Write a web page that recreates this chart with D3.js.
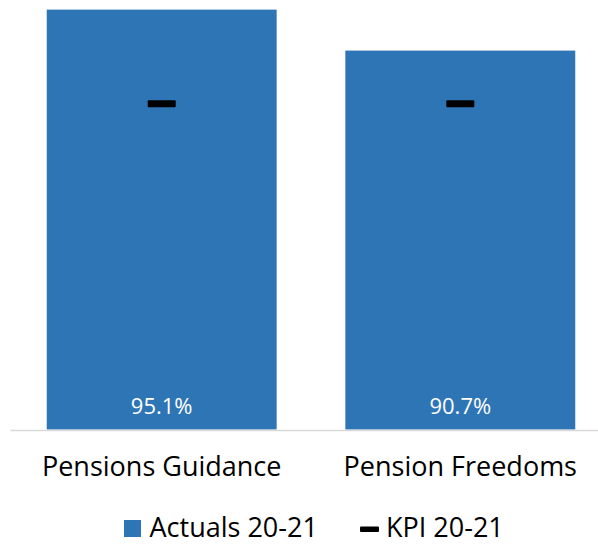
<!DOCTYPE html>
<html>
<head>
<meta charset="utf-8">
<script src="https://cdn.jsdelivr.net/npm/d3@7"></script>
<style>
  body { margin: 0; background: #fff; }
  text { font-family: "Open Sans", sans-serif; }
</style>
</head>
<body>
<div id="chart"></div>
<script>
// data
const categories = ["Pensions Guidance", "Pension Freedoms"];
const actuals = [95.1, 90.7];
const kpi = [85, 85];
const seriesNames = ["Actuals 20-21", "KPI 20-21"];

const width = 598, height = 544;
const barColor = "#2E75B6";

const svg = d3.select("#chart").append("svg")
  .attr("width", width)
  .attr("height", height);

// plot area runs a little past the right edge, like the original
const x = d3.scaleBand()
  .domain(categories)
  .range([12.4, 609.6])
  .paddingInner(0.23)
  .paddingOuter(0.115);

const y = d3.scaleLinear()
  .domain([50, 100])
  .range([429.5, -36]);

// bars
svg.append("g").selectAll("rect")
  .data(actuals)
  .join("rect")
  .attr("x", (d, i) => x(categories[i]))
  .attr("y", d => y(d))
  .attr("width", x.bandwidth())
  .attr("height", d => y(50) - y(d))
  .attr("fill", barColor);

// value labels inside bars
svg.append("g").selectAll("text")
  .data(actuals)
  .join("text")
  .attr("x", (d, i) => x(categories[i]) + x.bandwidth() / 2)
  .attr("y", 413.5)
  .attr("text-anchor", "middle")
  .attr("fill", "#fff")
  .style("font-size", "22px")
  .text(d => d.toFixed(1) + "%");

// kpi markers
svg.append("g").selectAll("rect")
  .data(kpi)
  .join("rect")
  .attr("x", (d, i) => x(categories[i]) + x.bandwidth() / 2 - 14)
  .attr("y", d => y(d) - 3.5)
  .attr("width", 28)
  .attr("height", 7)
  .attr("rx", 1)
  .attr("fill", "#000");

// x axis
const xAxis = svg.append("g")
  .attr("transform", "translate(0,430.5)")
  .call(d3.axisBottom(x).tickSize(0).tickPadding(26));
xAxis.select(".domain").attr("stroke", "#d9d9d9").attr("stroke-width", 1.5)
  .attr("d", "M10.5,0H598");
xAxis.selectAll("text")
  .style("font-family", "'Open Sans', sans-serif")
  .style("font-size", "27px")
  .attr("fill", "#000");

// legend
const legend = svg.append("g");
legend.append("rect")
  .attr("x", 124).attr("y", 520)
  .attr("width", 17).attr("height", 17)
  .attr("fill", barColor);
legend.append("text")
  .attr("x", 149.5).attr("y", 536.5)
  .style("font-size", "27px")
  .text(seriesNames[0]);
legend.append("rect")
  .attr("x", 360).attr("y", 526.5)
  .attr("width", 19).attr("height", 5.5)
  .attr("rx", 1)
  .attr("fill", "#000");
legend.append("text")
  .attr("x", 386).attr("y", 536.5)
  .style("font-size", "27px")
  .text(seriesNames[1]);
</script>
</body>
</html>
